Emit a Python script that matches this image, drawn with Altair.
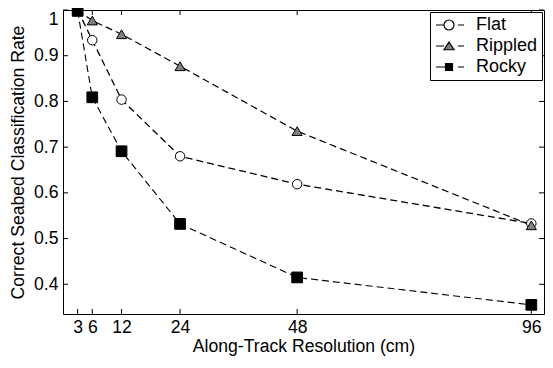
import altair as alt
import pandas as pd

# ---- data ----
resolution = [3, 6, 12, 24, 48, 96]
flat = [1.0, 0.934, 0.804, 0.680, 0.619, 0.533]
rippled = [1.0, 0.977, 0.947, 0.877, 0.735, 0.529]
rocky = [0.998, 0.809, 0.691, 0.532, 0.415, 0.355]

series_names = ["Flat", "Rippled", "Rocky"]
x_ticks = [3, 6, 12, 24, 48, 96]
y_ticks = [0.4, 0.5, 0.6, 0.7, 0.8, 0.9, 1.0]

rows = []
for name, vals in zip(series_names, [flat, rippled, rocky]):
    for r, v in zip(resolution, vals):
        rows.append({"res": r, "rate": v, "series": name})
df = pd.DataFrame(rows)

W, H = 481, 304
FONT = "Liberation Sans"
FS = 17.6

xscale = alt.Scale(domain=[0, 98.6], nice=False, zero=False)
yscale = alt.Scale(domain=[0.335, 1.0], nice=False, zero=False)
xaxis = alt.Axis(values=x_ticks, title="Along-Track Resolution (cm)",
                 labelOverlap=False, labelFlush=False)
yaxis = alt.Axis(values=y_ticks, title="Correct Seabed Classification Rate",
                 labelOverlap=False, labelFlush=False,
                 labelBaseline=alt.condition("datum.value == 1", alt.value("top"),
                                             alt.value("middle")),
                 labelExpr="datum.value == 1 ? '1' : format(datum.value, '.1f')")

fills = ["white", "#808080", "black"]
widths = alt.Scale(domain=series_names, range=[1.3, 1.1, 1.7])

base = alt.Chart(df)

lines = base.mark_line(color="black", strokeDash=[7, 4]).encode(
    x=alt.X("res:Q", scale=xscale, axis=xaxis),
    y=alt.Y("rate:Q", scale=yscale, axis=yaxis),
    detail="series:N",
    strokeWidth=alt.StrokeWidth("series:N", scale=widths, legend=None),
)

points = base.mark_point(filled=True, stroke="black", strokeWidth=1, opacity=1).encode(
    x=alt.X("res:Q", scale=xscale, axis=xaxis),
    y=alt.Y("rate:Q", scale=yscale, axis=yaxis),
    shape=alt.Shape("series:N",
                    scale=alt.Scale(domain=series_names,
                                    range=["circle", "triangle-up", "square"]),
                    legend=None),
    fill=alt.Fill("series:N", scale=alt.Scale(domain=series_names, range=fills),
                  legend=None),
    size=alt.Size("series:N", scale=alt.Scale(domain=series_names, range=[90, 115, 58]),
                  legend=None),
)

legend_paths = [
    "M-2.6,0H-1M1.8,0H3M1,0A1,1,0,1,1,-1,0A1,1,0,1,1,1,0Z",
    "M-2.6,0H-1M1.8,0H3M0,-0.8L1,0.75L-1,0.75Z",
    "M-2.6,0H-0.7M1.8,0H3M-0.7,-0.7H0.7V0.7H-0.7Z",
]
leg = alt.Legend(title=None, orient="top-right", offset=2,
                 fillColor="white", strokeColor="black", padding=4,
                 symbolSize=100, symbolOffset=6, labelOffset=18,
                 symbolStrokeWidth=1.2, symbolOpacity=1,
                 labelFont=FONT, labelFontSize=18, labelColor="black",
                 rowPadding=3, cornerRadius=0)

legend_layer = base.transform_filter("datum.series == 'none'").mark_point(
    filled=True, strokeWidth=1.2, opacity=1
).encode(
    x=alt.X("res:Q", scale=xscale, axis=xaxis),
    y=alt.Y("rate:Q", scale=yscale, axis=yaxis),
    shape=alt.Shape("series:N", scale=alt.Scale(domain=series_names, range=legend_paths),
                    legend=leg),
    fill=alt.Fill("series:N", scale=alt.Scale(domain=series_names, range=fills),
                  legend=leg),
    stroke=alt.Stroke("series:N",
                      scale=alt.Scale(domain=series_names, range=["black", "black", "black"]),
                      legend=leg),
)

xt = pd.DataFrame({"res": x_ticks})
yt = pd.DataFrame({"rate": y_ticks})
tick_bottom = alt.Chart(xt).mark_rule(color="black").encode(
    x=alt.X("res:Q", scale=xscale, axis=xaxis), y=alt.value(H), y2=alt.value(H - 5))
tick_top = alt.Chart(xt).mark_rule(color="black").encode(
    x=alt.X("res:Q", scale=xscale, axis=xaxis), y=alt.value(0), y2=alt.value(5))
tick_left = alt.Chart(yt).mark_rule(color="black").encode(
    y=alt.Y("rate:Q", scale=yscale, axis=yaxis), x=alt.value(0), x2=alt.value(5))
tick_right = alt.Chart(yt).mark_rule(color="black").encode(
    y=alt.Y("rate:Q", scale=yscale, axis=yaxis), x=alt.value(W), x2=alt.value(W - 5))

chart = alt.layer(
    lines, points, tick_bottom, tick_top, tick_left, tick_right, legend_layer
).resolve_scale(
    shape="independent", fill="independent", stroke="independent"
).properties(
    width=W, height=H,
    autosize=alt.AutoSizeParams(type="none"),
    padding={"left": 55, "top": 2, "right": 1, "bottom": 42},
    background="white",
).configure_view(
    stroke="black", strokeWidth=1
).configure_axis(
    labelFont=FONT, labelFontSize=FS, labelColor="black",
    titleFont=FONT, titleFontSize=FS, titleColor="black", titleFontWeight="normal",
    ticks=False, domain=False, grid=False,
).configure_axisX(
    labelPadding=4, titlePadding=2,
).configure_axisY(
    labelPadding=5, titlePadding=6,
)

chart.save("out.html", embed_options={"renderer": "svg", "actions": False})
